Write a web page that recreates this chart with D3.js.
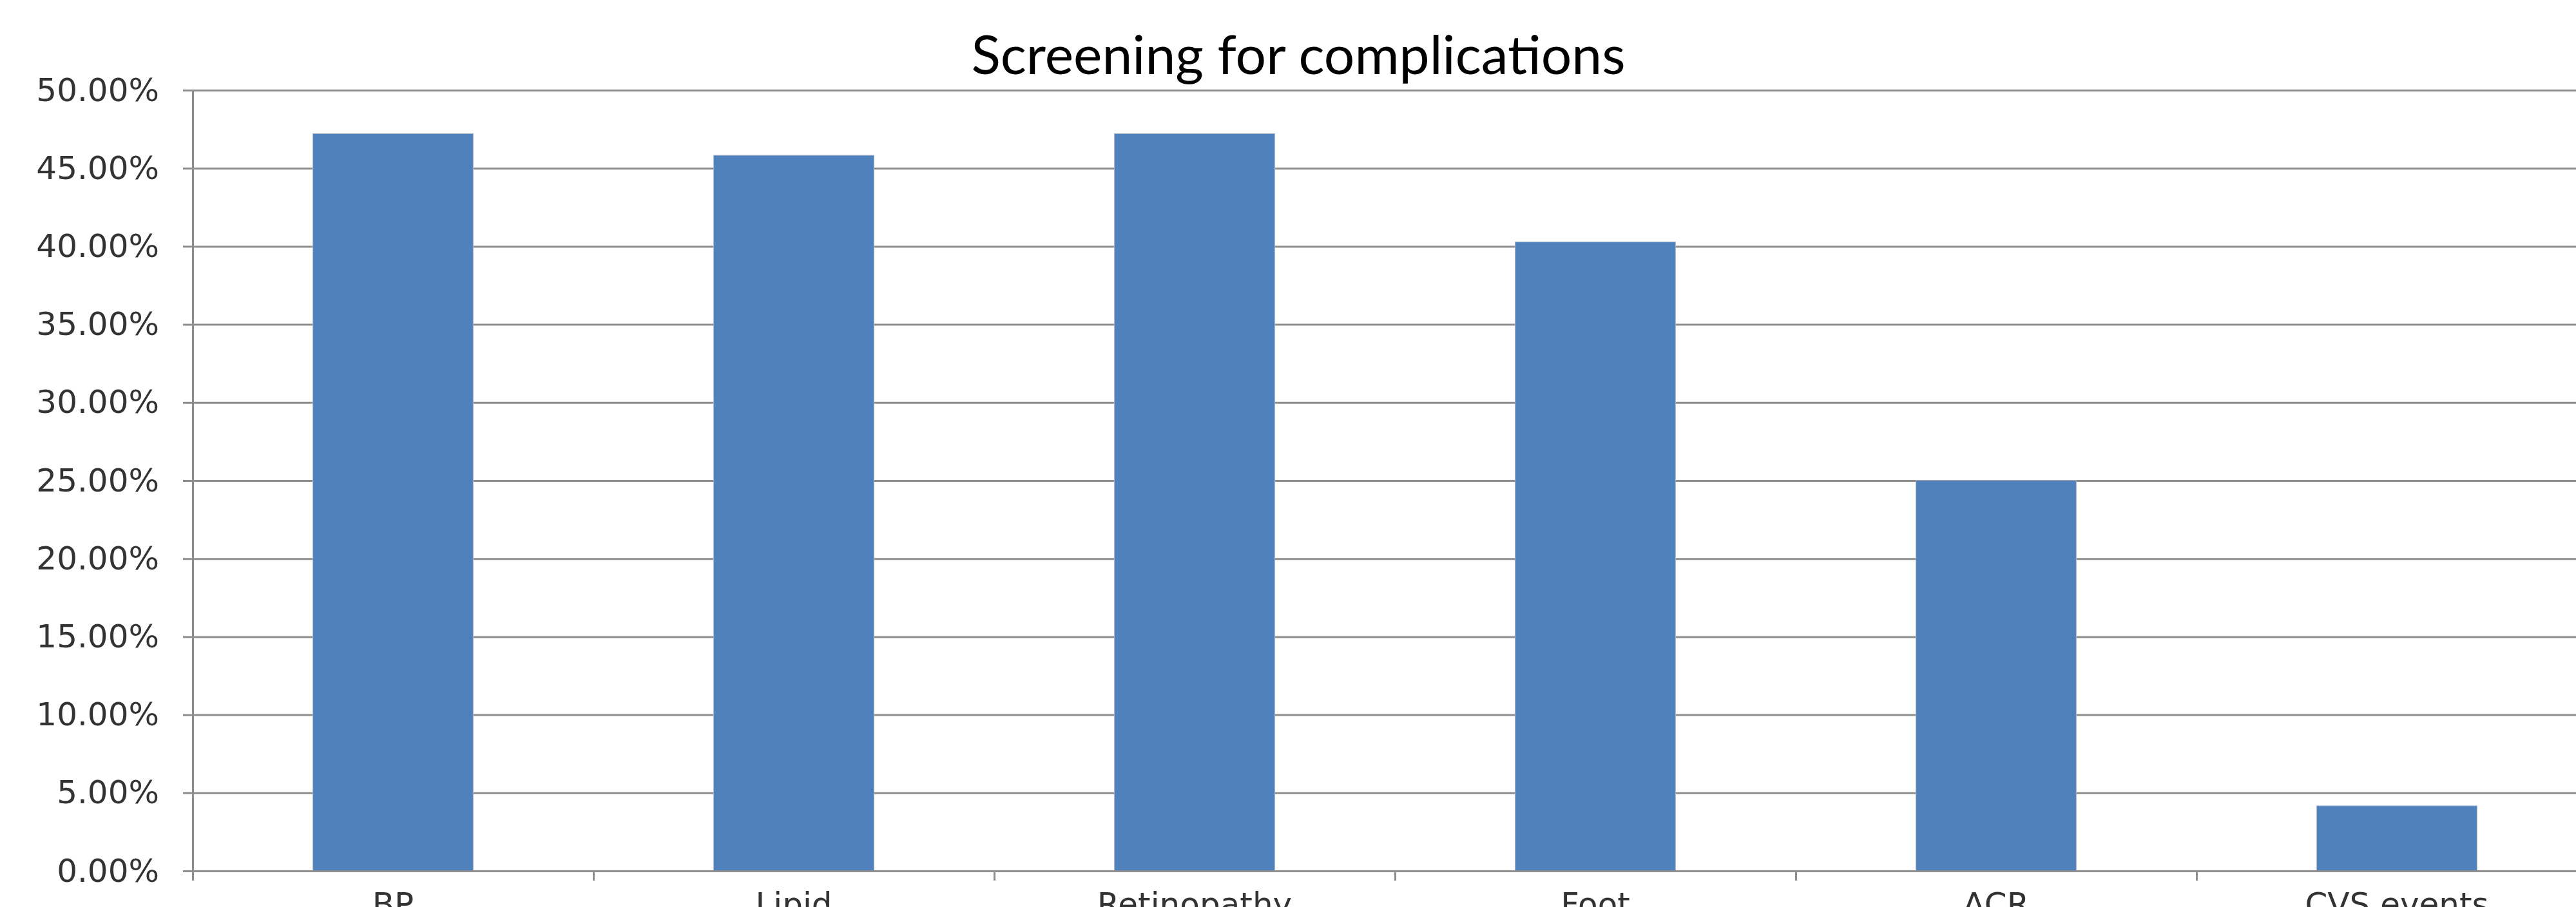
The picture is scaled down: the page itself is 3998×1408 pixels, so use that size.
<!DOCTYPE html>
<html>
<head>
<meta charset="utf-8">
<script src="https://cdn.jsdelivr.net/npm/d3@7"></script>
<style>
  html, body { margin: 0; padding: 0; background: #ffffff; }
  svg { display: block; }
</style>
</head>
<body>
<svg id="chart" width="3998" height="1408"></svg>
<script>
// Share of patients screened for each complication
const categories = ["BP", "Lipid", "Retinopathy", "Foot", "ACR", "CVS events"];
const screenedPct = [47.22, 45.83, 47.22, 40.28, 25.00, 4.17];
const yTickValues = [0, 5, 10, 15, 20, 25, 30, 35, 40, 45, 50];
const chartTitle = "Screening for complications";

const W = 3998, H = 1408;
const plotLeft = 299, plotTop = 140, plotBottom = 1352;
const catStep = 622;
const plotRight = plotLeft + catStep * categories.length;

const svg = d3.select("#chart");

const y = d3.scaleLinear().domain([0, 50]).range([plotBottom, plotTop]);
const x = d3.scaleBand().domain(categories).range([plotLeft, plotRight])
  .paddingInner(0.6).paddingOuter(0.3);
const xEdges = d3.scaleLinear().domain([0, categories.length]).range([plotLeft, plotRight]);

const gridColor = "#8e8e8e";
const textColor = "#333333";

// horizontal gridlines
svg.append("g")
  .attr("transform", `translate(${plotLeft},0)`)
  .call(d3.axisLeft(y).tickValues(yTickValues).tickSize(-(W - plotLeft)).tickFormat(""))
  .call(g => g.select(".domain").remove())
  .call(g => g.selectAll(".tick line").attr("stroke", gridColor).attr("stroke-width", 3));

// bars
svg.append("g")
  .selectAll("rect")
  .data(categories)
  .join("rect")
  .attr("x", d => x(d))
  .attr("width", x.bandwidth())
  .attr("y", (d, i) => y(screenedPct[i]))
  .attr("height", (d, i) => y(0) - y(screenedPct[i]))
  .attr("fill", "#4f81bd")
  .attr("stroke", "#a9b8cc")
  .attr("stroke-width", 1);

// value axis
svg.append("g")
  .attr("transform", `translate(${plotLeft},0)`)
  .call(d3.axisLeft(y).tickValues(yTickValues).tickSize(15).tickPadding(37)
    .tickFormat(d => d.toFixed(2) + "%"))
  .call(g => g.select(".domain").attr("stroke", gridColor).attr("stroke-width", 3))
  .call(g => g.selectAll(".tick line").attr("stroke", gridColor).attr("stroke-width", 3))
  .call(g => g.selectAll(".tick text")
    .attr("fill", textColor)
    .style("font-family", "'DejaVu Sans', Verdana, sans-serif")
    .style("font-size", "50px"));

// category axis: baseline and boundary ticks
svg.append("g")
  .attr("transform", `translate(0,${plotBottom})`)
  .call(d3.axisBottom(xEdges).tickValues(d3.range(categories.length + 1)).tickSize(15).tickFormat("").tickSizeOuter(0))
  .call(g => g.select(".domain").attr("stroke", gridColor).attr("stroke-width", 3))
  .call(g => g.selectAll(".tick line").attr("stroke", gridColor).attr("stroke-width", 3));

// category labels
svg.append("g")
  .attr("transform", `translate(0,${plotBottom})`)
  .call(d3.axisBottom(x).tickSize(0).tickPadding(33))
  .call(g => g.select(".domain").remove())
  .call(g => g.selectAll(".tick text")
    .attr("fill", textColor)
    .style("font-family", "'DejaVu Sans', Verdana, sans-serif")
    .style("font-size", "50px"));

// title
svg.append("text")
  .attr("x", 2015)
  .attr("y", 115)
  .attr("text-anchor", "middle")
  .attr("fill", "#000000")
  .style("font-family", "Lato, 'Open Sans', sans-serif")
  .style("font-size", "84px")
  .text(chartTitle);
</script>
</body>
</html>
